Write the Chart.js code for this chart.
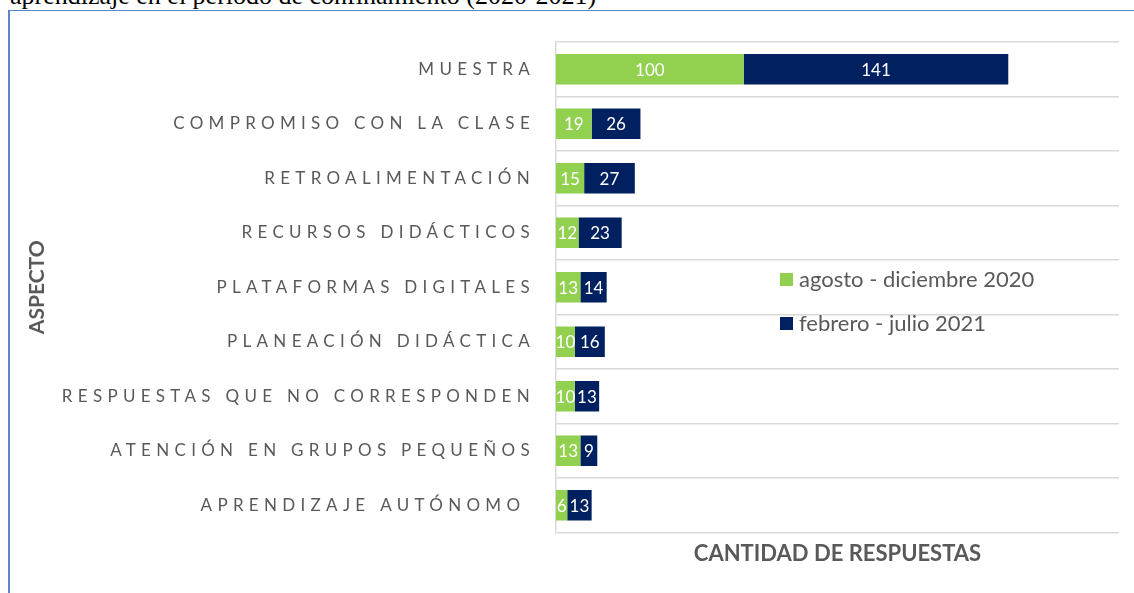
<!DOCTYPE html>
<html>
<head>
<meta charset="utf-8">
<script src="https://cdn.jsdelivr.net/npm/chart.js@4"></script>
<style>
  body { margin: 0; background: #fff; width: 1134px; height: 593px; overflow: hidden; position: relative; }
  #caption { position: absolute; left: 10px; top: -17px; font: 26px "Liberation Serif", serif; color: #000; white-space: nowrap; line-height: 1; }
  #frame { position: absolute; left: 8px; top: 10px; width: 1200px; height: 700px; border-top: 1.5px solid #5b87c9; border-left: 2px solid #5b87c9; }
  #myChart { position: absolute; left: 0; top: 0; }
  #legend { position: absolute; left: 780px; top: 265px; font: 22px Lato, sans-serif; color: #595959; }
  #legend div { height: 44px; display: flex; align-items: flex-start; }
  #legend span.box { width: 13px; height: 13px; margin: 8px 6px 0 0; display: inline-block; }
</style>
</head>
<body>
<div id="caption">aprendizaje en el período de confinamiento (2020-2021)</div>
<div id="frame"></div>
<canvas id="myChart" width="1134" height="593"></canvas>
<div id="legend"></div>
<script>
const aspectos = [
  "MUESTRA",
  "COMPROMISO CON LA CLASE",
  "RETROALIMENTACIÓN",
  "RECURSOS DIDÁCTICOS",
  "PLATAFORMAS DIGITALES",
  "PLANEACIÓN DIDÁCTICA",
  "RESPUESTAS QUE NO CORRESPONDEN",
  "ATENCIÓN EN GRUPOS PEQUEÑOS",
  "APRENDIZAJE AUTÓNOMO ",
];
const periodos = ["agosto - diciembre 2020", "febrero - julio 2021"];
const agostoDic2020 = [100, 19, 15, 12, 13, 10, 10, 13, 6];
const febJul2021 = [141, 26, 27, 23, 14, 16, 13, 9, 13];
const colores = ["#92d050", "#002060"];

const gris = "#595959";

// etiquetas blancas centradas + espaciado de letras para el eje
const etiquetasPlugin = {
  id: "etiquetas",
  afterDatasetsDraw(chart) {
    const ctx = chart.ctx;
    ctx.save();
    ctx.font = "17px Lato";
    ctx.fillStyle = "#fff";
    ctx.textAlign = "center";
    ctx.textBaseline = "middle";
    chart.data.datasets.forEach((ds, i) => {
      chart.getDatasetMeta(i).data.forEach((bar, j) => {
        const p = bar.getProps(["x", "y", "base"], true);
        ctx.fillText(ds.data[j], (p.x + p.base) / 2, p.y + 1);
      });
    });
    ctx.restore();
    ctx.letterSpacing = "5.3px";
  },
  afterDraw(chart) {
    chart.ctx.letterSpacing = "0px";
  },
};

const ctx = document.getElementById("myChart");
new Chart(ctx, {
  type: "bar",
  data: {
    labels: aspectos,
    datasets: [
      { label: periodos[0], data: agostoDic2020, backgroundColor: colores[0] },
      { label: periodos[1], data: febJul2021, backgroundColor: colores[1] },
    ],
  },
  options: {
    indexAxis: "y",
    responsive: false,
    animation: false,
    layout: { padding: { left: 21, top: 42, right: 15, bottom: 14 } },
    datasets: { bar: { categoryPercentage: 1, barPercentage: 0.56 } },
    plugins: {
      legend: { display: false },
      tooltip: { enabled: false },
    },
    scales: {
      x: {
        stacked: true,
        min: 0,
        max: 300,
        ticks: { display: false },
        grid: { display: false },
        border: { display: false },
        title: {
          display: true,
          text: "CANTIDAD DE RESPUESTAS",
          color: gris,
          font: { family: "Lato", size: 22, weight: "bold" },
          padding: { top: 0, bottom: 12 },
        },
      },
      y: {
        stacked: true,
        afterFit(scale) { scale.width = 535; },
        grid: { color: "#d9d9d9", lineWidth: 1.5, drawTicks: false },
        border: { color: "#d9d9d9", width: 1.5 },
        ticks: { color: gris, font: { family: "Lato", size: 17 }, padding: 21, z: 1 },
        title: {
          display: true,
          text: "ASPECTO",
          color: gris,
          font: { family: "Lato", size: 21, weight: "bold" },
        },
      },
    },
  },
  plugins: [etiquetasPlugin],
});

let out = "";
for (let i = 0; i < periodos.length; i++) {
  out += `<div><span class="box" style="background:${colores[i]}"></span>${periodos[i]}</div>`;
}
document.getElementById("legend").innerHTML = out;
</script>
</body>
</html>
